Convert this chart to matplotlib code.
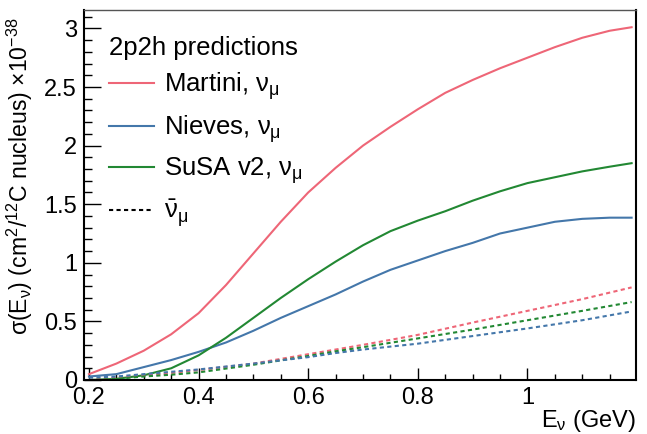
import matplotlib
matplotlib.use("Agg")
import matplotlib.pyplot as plt
from matplotlib.lines import Line2D
from matplotlib.ticker import MultipleLocator, FormatStrFormatter

# ── 字体 ──────────────────────────────────────────────
plt.rcParams["font.family"] = ["Liberation Sans", "DejaVu Sans"]
plt.rcParams["mathtext.fontset"] = "custom"
plt.rcParams["mathtext.rm"] = "Liberation Sans"
plt.rcParams["mathtext.it"] = "Liberation Sans"
plt.rcParams["mathtext.bf"] = "Liberation Sans"
plt.rcParams["mathtext.sf"] = "Liberation Sans"
plt.rcParams["font.size"] = 17

# ── 数据 (E in GeV, sigma in 1e-38 cm^2 / 12C) ───────────
E_SOLID = [0.2, 0.25, 0.3, 0.35, 0.4, 0.45, 0.5, 0.55, 0.6, 0.65, 0.7,
           0.75, 0.8, 0.85, 0.9, 0.95, 1.0, 1.05, 1.1, 1.15, 1.19]
martini_nu = [0.05, 0.14, 0.25, 0.39, 0.57, 0.81, 1.08, 1.35, 1.60, 1.81, 2.00,
              2.16, 2.31, 2.45, 2.56, 2.66, 2.75, 2.84, 2.92, 2.98, 3.01]
nieves_nu = [0.03, 0.05, 0.11, 0.17, 0.24, 0.32, 0.42, 0.53, 0.63, 0.73, 0.84,
             0.94, 1.02, 1.10, 1.17, 1.25, 1.30, 1.35, 1.375, 1.385, 1.385]
susa_nu = [0.0, 0.01, 0.04, 0.10, 0.21, 0.36, 0.53, 0.70, 0.86, 1.01, 1.15,
           1.27, 1.36, 1.44, 1.53, 1.61, 1.68, 1.73, 1.78, 1.82, 1.85]

E_BAR = [0.2, 0.25, 0.3, 0.35, 0.4, 0.5, 0.6, 0.65, 0.7, 0.8, 0.9, 1.0, 1.1, 1.19]
martini_nubar = [0.0, 0.02, 0.04, 0.06, 0.085, 0.14, 0.22, 0.26, 0.30, 0.385, 0.49, 0.59, 0.69, 0.79]
nieves_nubar = [0.02, 0.03, 0.05, 0.07, 0.09, 0.14, 0.195, 0.23, 0.26, 0.31, 0.375, 0.44, 0.51, 0.585]
susa_nubar = [0.0, 0.01, 0.03, 0.045, 0.065, 0.13, 0.205, 0.245, 0.28, 0.355, 0.43, 0.51, 0.59, 0.665]

RED, BLUE, GREEN = "#EE6677", "#4477AA", "#228833"
DASH = (2.0, 1.6)

# ── 画图 ──────────────────────────────────────────────
fig = plt.figure(figsize=(6.47, 4.34), dpi=100)
ax = fig.add_axes([84 / 647, 54 / 434, 552 / 647, 370 / 434])

lw = 1.5
ax.plot(E_SOLID, martini_nu, color=RED, lw=lw)
ax.plot(E_SOLID, nieves_nu, color=BLUE, lw=lw)
ax.plot(E_SOLID, susa_nu, color=GREEN, lw=lw)
ax.plot(E_BAR, martini_nubar, color=RED, lw=lw, dashes=DASH)
ax.plot(E_BAR, susa_nubar, color=GREEN, lw=lw, dashes=DASH)
ax.plot(E_BAR, nieves_nubar, color=BLUE, lw=lw, dashes=DASH)

ax.set_xlim(0.191, 1.198)
ax.set_ylim(0, 3.157)

ax.xaxis.set_major_locator(MultipleLocator(0.2))
ax.xaxis.set_minor_locator(MultipleLocator(0.05))
ax.yaxis.set_major_locator(MultipleLocator(0.5))
ax.yaxis.set_minor_locator(MultipleLocator(0.1))
ax.xaxis.set_major_formatter(FormatStrFormatter("%g"))
ax.yaxis.set_major_formatter(FormatStrFormatter("%g"))

ax.tick_params(axis="y", which="major", direction="in", length=12, width=1, pad=5)
ax.tick_params(axis="y", which="minor", direction="in", length=6, width=1)
ax.tick_params(axis="x", which="major", direction="in", length=8.5, width=1, pad=5)
ax.tick_params(axis="x", which="minor", direction="in", length=4.3, width=1)

for side in ["left", "bottom", "right"]:
    ax.spines[side].set_linewidth(1.5)
ax.spines["top"].set_linewidth(1.0)
ax.spines["top"].set_color("#555555")

ax.set_xlabel(r"$E_{\nu}$ (GeV)", loc="right")
ax.xaxis.set_label_coords(1.0, -0.075)
ax.set_ylabel(r"$\sigma(E_{\nu})$ (cm$^{2}$/$^{12}$C nucleus) $\times10^{-38}$",
              loc="top", fontsize=16.6)
ax.yaxis.set_label_coords(-0.088, 0.98)

handles = [
    Line2D([], [], color=RED, lw=lw),
    Line2D([], [], color=BLUE, lw=lw),
    Line2D([], [], color=GREEN, lw=lw),
    Line2D([], [], color="black", lw=lw, dashes=DASH),
]
labels = [r"Martini, $\nu_{\mu}$", r"Nieves, $\nu_{\mu}$",
          r"SuSA v2, $\nu_{\mu}$", r"$\bar{\nu}_{\mu}$"]
leg = ax.legend(handles, labels, title="2p2h predictions", loc="upper left",
                bbox_to_anchor=(0.045, 0.93),
                frameon=False, fontsize=18.5, title_fontsize=18.5, alignment="left",
                handlelength=1.76, handletextpad=0.4, labelspacing=0.42,
                borderaxespad=0, borderpad=0)

fig.savefig("out.png", dpi=100)
